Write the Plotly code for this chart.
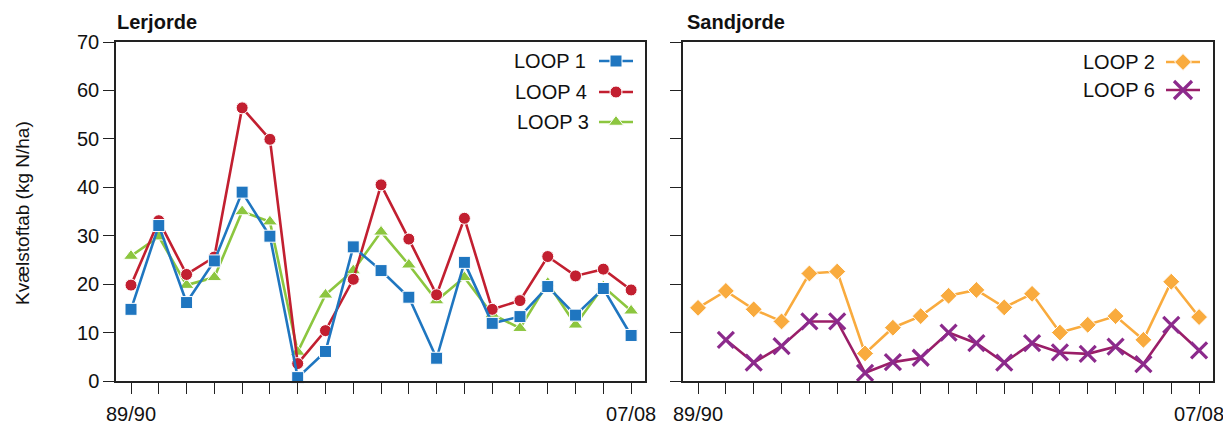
import plotly.graph_objects as go

# Seasons 89/90 .. 07/08
seasons = [f"{y % 100:02d}/{(y + 1) % 100:02d}" for y in range(1989, 2008)]
tick_text = [s if i in (0, len(seasons) - 1) else "" for i, s in enumerate(seasons)]

# Nitrogen leaching, clay soils (kg N/ha)
loop1 = [14.8, 32.1, 16.2, 24.8, 39.0, 29.9, 0.7, 6.1, 27.7, 22.8,
         17.3, 4.7, 24.5, 11.9, 13.3, 19.5, 13.6, 19.1, 9.4]
loop4 = [19.8, 33.1, 22.0, 25.6, 56.4, 49.9, 3.6, 10.4, 21.0, 40.5,
         29.3, 17.8, 33.6, 14.8, 16.6, 25.7, 21.7, 23.1, 18.8]
loop3 = [25.8, 29.8, 19.8, 21.4, 35.0, 32.9, 6.0, 17.8, 22.8, 30.8,
         24.0, 16.6, 21.4, 13.8, 10.9, 20.2, 11.6, 19.5, 14.5]

# Nitrogen leaching, sandy soils (kg N/ha)
loop2 = [15.1, 18.6, 14.8, 12.3, 22.2, 22.6, 5.7, 11.0, 13.4, 17.6,
         18.8, 15.2, 18.0, 10.0, 11.6, 13.4, 8.5, 20.5, 13.2]
loop6 = [None, 8.5, 3.8, 7.2, 12.3, 12.3, 1.7, 3.9, 4.8, 10.0,
         7.8, 3.8, 7.8, 5.9, 5.6, 7.1, 3.5, 11.6, 6.3]

panel_titles = ["Lerjorde", "Sandjorde"]
y_title = "Kvælstoftab (kg N/ha)"
y_ticks = [0, 10, 20, 30, 40, 50, 60, 70]

BLUE = "#1f76c0"
RED = "#c21f30"
GREEN = "#8cc63f"
ORANGE = "#f9ab3e"
PURPLE = "#8c2a8c"
PURPLE_LINE = "#9a1e68"

FONT = "Liberation Sans, Arial, Helvetica, sans-serif"
W, H = 1223, 426

styles = {
    "LOOP 1": dict(color=BLUE, symbol="square", size=12, lw=1, lc="white", line=BLUE),
    "LOOP 4": dict(color=RED, symbol="circle", size=12, lw=1, lc="white", line=RED),
    "LOOP 3": dict(color=GREEN, symbol="triangle-up", size=13, lw=1, lc="white", line=GREEN),
    "LOOP 2": dict(color=ORANGE, symbol="diamond", size=13, lw=1, lc="white", line=ORANGE),
    "LOOP 6": dict(color=PURPLE, symbol="x-thin", size=16, lw=3.2, lc=PURPLE, line=PURPLE_LINE),
}

fig = go.Figure()


def add_series(name, values, xa, ya):
    st = styles[name]
    fig.add_trace(go.Scatter(
        x=seasons, y=values, name=name, mode="lines+markers",
        xaxis=xa, yaxis=ya, showlegend=False, connectgaps=False,
        line=dict(color=st["line"], width=2.6),
        marker=dict(color=st["color"], symbol=st["symbol"], size=st["size"],
                    line=dict(color=st["lc"], width=st["lw"])),
        cliponaxis=False,
    ))


# draw order: green under red under blue
add_series("LOOP 3", loop3, "x", "y")
add_series("LOOP 4", loop4, "x", "y")
add_series("LOOP 1", loop1, "x", "y")
add_series("LOOP 2", loop2, "x2", "y2")
add_series("LOOP 6", loop6, "x2", "y2")

# legend samples on a full-page pixel-space subplot
legend_rows = [
    ("LOOP 1", 588, 616, 61),
    ("LOOP 4", 589, 616, 92),
    ("LOOP 3", 591, 616, 122),
    ("LOOP 2", 1157, 1183, 62),
    ("LOOP 6", 1157, 1183, 90),
]
annotations = []
for name, text_right, cx, cy in legend_rows:
    st = styles[name]
    fig.add_trace(go.Scatter(
        x=[cx - 17, cx, cx + 17], y=[cy, cy, cy], mode="lines",
        xaxis="x3", yaxis="y3", showlegend=False, hoverinfo="skip",
        line=dict(color=st["line"], width=2.6),
    ))
    fig.add_trace(go.Scatter(
        x=[cx], y=[cy], mode="markers",
        xaxis="x3", yaxis="y3", showlegend=False, hoverinfo="skip",
        marker=dict(color=st["color"], symbol=st["symbol"],
                    size=st["size"] if name != "LOOP 6" else 18,
                    line=dict(color=st["lc"], width=st["lw"])),
    ))
    annotations.append(dict(
        x=text_right / W, y=1 - cy / H, xref="paper", yref="paper",
        xanchor="right", yanchor="middle", text=name, showarrow=False,
        font=dict(family=FONT, size=20, color="#111111"),
    ))

# panel titles
for title, left in zip(panel_titles, [115, 685]):
    annotations.append(dict(
        x=left / W, y=1 - 22 / H, xref="paper", yref="paper",
        xanchor="left", yanchor="middle", text=f"<b>{title}</b>",
        showarrow=False, font=dict(family=FONT, size=20, color="#111111"),
    ))

# y-axis title
annotations.append(dict(
    x=22 / W, y=1 - 213 / H, xref="paper", yref="paper",
    xanchor="center", yanchor="middle", text=y_title, textangle=-90,
    showarrow=False, font=dict(family=FONT, size=19, color="#111111"),
))

y_dom = [1 - 381 / H, 1 - 42 / H]
axis_common = dict(
    showgrid=False, zeroline=False, showline=True, linecolor="#222222",
    linewidth=1.5, mirror=True, ticks="outside", ticklen=11, tickwidth=1.4,
    tickcolor="#222222", automargin=False,
    tickfont=dict(family=FONT, size=20, color="#111111"),
)
x_common = dict(axis_common, type="category", categoryorder="array",
                categoryarray=seasons, tickmode="array", tickvals=seasons,
                ticktext=tick_text, range=[-0.54, 18.5], ticklabelstandoff=3)
y_common = dict(axis_common, range=[0, 70], tickmode="array", tickvals=y_ticks)

fig.update_layout(
    width=W, height=H,
    margin=dict(l=0, r=0, t=0, b=0, pad=0, autoexpand=False),
    paper_bgcolor="white", plot_bgcolor="rgba(0,0,0,0)",
    showlegend=False,
    font=dict(family=FONT, size=20, color="#111111"),
    xaxis=dict(x_common, domain=[116 / W, 645 / W], anchor="y"),
    yaxis=dict(y_common, domain=y_dom, anchor="x"),
    xaxis2=dict(x_common, domain=[683 / W, 1213 / W], anchor="y2"),
    yaxis2=dict(y_common, domain=y_dom, anchor="x2", showticklabels=False),
    xaxis3=dict(domain=[0, 1], range=[0, W], visible=False, anchor="y3",
                fixedrange=True),
    yaxis3=dict(domain=[0, 1], range=[H, 0], visible=False, anchor="x3",
                fixedrange=True),
    annotations=annotations,
)

fig.write_html("out.html")
